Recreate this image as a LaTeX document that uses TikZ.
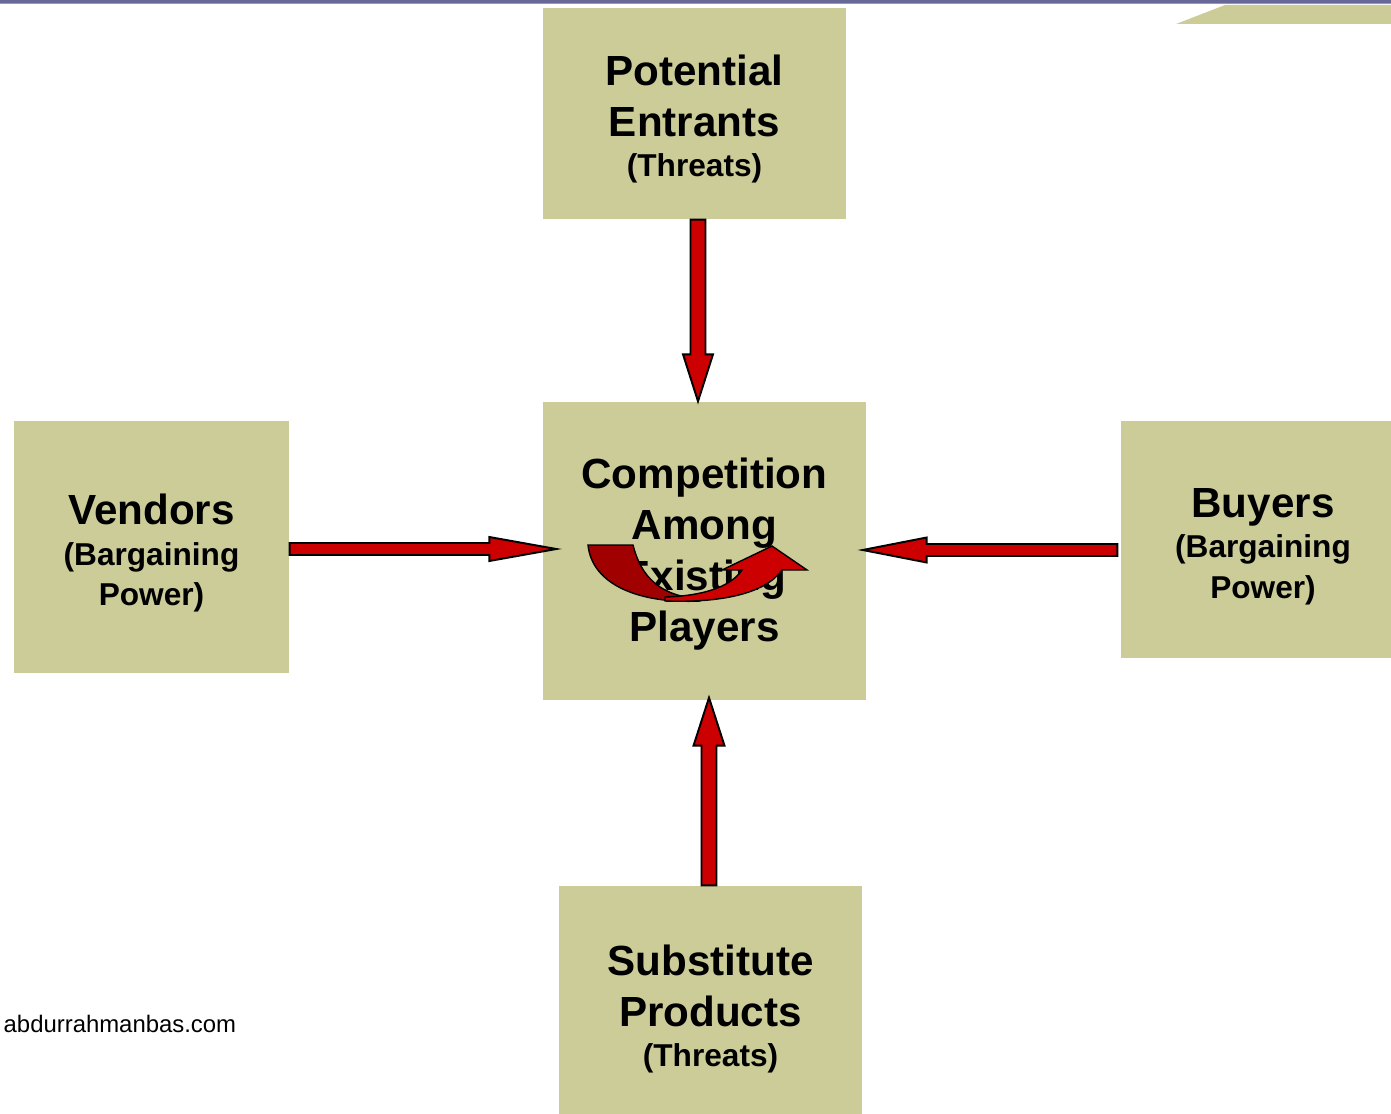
\documentclass[tikz,border=0pt]{standalone}
\usepackage{fontspec}
\setmainfont{Liberation Sans}
\usetikzlibrary{calc}

\definecolor{boxolive}{RGB}{204,204,153}
\definecolor{arrowred}{RGB}{204,0,0}
\definecolor{arrowdark}{RGB}{160,0,0}
\definecolor{barpurple}{RGB}{104,104,152}
\definecolor{barlight}{RGB}{150,150,190}

\tikzset{
  forcebox/.style={shape=rectangle, fill=boxolive, draw=none, inner sep=0pt},
  forcetext/.style={shape=rectangle, draw=none, inner sep=0pt, align=center,
    font=\bfseries\fontsize{24}{29}\selectfont},
  forcearrow/.style={fill=arrowred, draw=black, line width=1.1pt, line join=miter},
}
\newcommand{\smalltxt}{\fontsize{18}{21.5}\selectfont}

% block arrow: tail, tip, half shaft, half head, head length
\newcommand{\blockarrow}[5]{%
  \coordinate (hb) at ($(#2)!#5!(#1)$);
  \draw[forcearrow] ($(#1)!#3!90:(#2)$) -- ($(hb)!#3!-90:(#1)$) -- ($(hb)!#4!-90:(#1)$) -- (#2)
    -- ($(hb)!#4!90:(#1)$) -- ($(hb)!#3!90:(#1)$) -- ($(#1)!#3!-90:(#2)$) -- cycle;
}

\begin{document}
\begin{tikzpicture}[x=0.02cm, y=-0.02cm, thick]
%\draw[help lines] (0,0) grid +(1391,1114);
\clip (0,0) rectangle (1391,1114);

%%%%%%%%%%%%%%%%%%%%%%%%%%%%%%%%%%%%%%%%%%% top bar
\fill[barpurple] (0,0) rectangle (1391,3);
\fill[barlight] (0,3) rectangle (1391,4.5);
\fill[boxolive] (1176,24) -- (1225,5) -- (1391,5) -- (1391,24) -- cycle;

%%%%%%%%%%%%%%%%%%%%%%%%%%%%%%%%%%%%%%%%%%% elements
\node[forcebox, minimum width=6.06cm, minimum height=4.22cm](pe) at (694.5,113.5) {};
\node[forcebox, minimum width=6.46cm, minimum height=5.96cm](cp) at (704.5,551) {};
\node[forcebox, minimum width=5.5cm, minimum height=5.04cm](vd) at (151.5,547) {};
\node[forcebox, minimum width=5.68cm, minimum height=4.74cm](by) at (1263,539.5) {};
\node[forcebox, minimum width=6.06cm, minimum height=4.88cm](sp) at (710.5,1008) {};

%%%%% texts
\node[forcetext](petext) at ($(pe)+(0,5.5)$)
  {Potential\\Entrants\\[-6pt]\smalltxt (Threats)};
\node[forcetext](cptext) at ($(cp)+(0,3.5)$)
  {Competition\\Among\\Existing\\Players};
\node[forcetext](vdtext) at ($(vd)+(0,6)$)
  {Vendors\\[-6pt]\smalltxt (Bargaining\\[-6pt]\smalltxt Power)};
\node[forcetext](bytext) at ($(by)+(0,7)$)
  {Buyers\\[-6pt]\smalltxt (Bargaining\\[-6pt]\smalltxt Power)};
\node[forcetext](sptext) at ($(sp)+(0,1)$)
  {Substitute\\Products\\[-6pt]\smalltxt (Threats)};

\node[anchor=base west, font=\fontsize{13.6}{16}\selectfont, inner sep=0pt](site) at (3,1032) {abdurrahmanbas.com};

%%%%% arrow ends
\coordinate (peout) at ($(pe.south)+(3.5,0)$);
\coordinate (cptop) at ($(cp.north)+(-6.5,0)$);
\coordinate (vdout) at ($(vd.east)+(0,2)$);
\coordinate (cpleft) at ($(cp.west)+(14,-2)$);
\coordinate (byout) at ($(by.west)+(-3,10.5)$);
\coordinate (cpright) at ($(cp.east)+(-4,-1)$);
\coordinate (spout) at ($(sp.north)+(-1.5,0)$);
\coordinate (cpbottom) at ($(cp.south)+(4.5,-3)$);

%%%%% arrows
\blockarrow{peout}{cptop}{0.15cm}{0.3cm}{0.94cm}
\blockarrow{vdout}{cpleft}{0.12cm}{0.24cm}{1.34cm}
\blockarrow{byout}{cpright}{0.12cm}{0.25cm}{1.28cm}
\blockarrow{spout}{cpbottom}{0.15cm}{0.31cm}{0.96cm}

%%%%% rivalry arrow
\draw[fill=arrowdark, draw=black, line width=0.8pt] (588,545) -- (633,545)
  .. controls (641,577) and (660,596) .. (700,599) -- (700,601)
  .. controls (640,604) and (592,585) .. (588,545) -- cycle;
\draw[fill=arrowred, draw=black, line width=0.8pt, line join=miter] (665,597)
  .. controls (700,596) and (730,588) .. (742,570) -- (722,570) -- (772,546) -- (807,570) -- (782,570)
  .. controls (765,594) and (720,603) .. (665,601) -- cycle;
\end{tikzpicture}
\end{document}
